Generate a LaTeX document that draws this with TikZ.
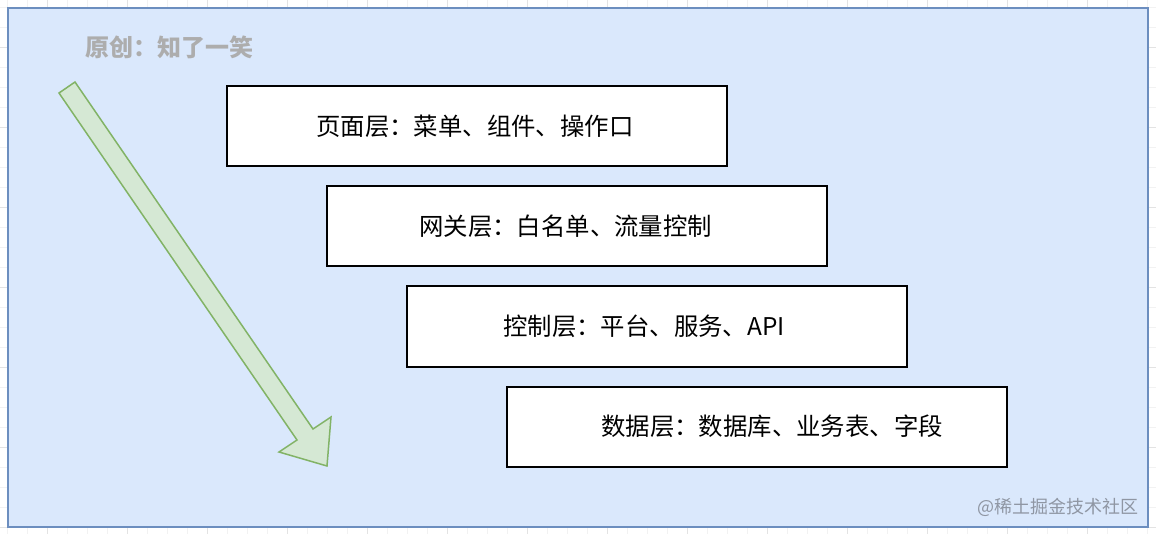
\documentclass[tikz,border=0pt]{standalone}
\usepackage{fontspec}
\setmainfont{Noto Sans CJK SC}
\definecolor{bgfill}{HTML}{DAE8FC}
\definecolor{bgline}{HTML}{6C8EBF}
\definecolor{arrfill}{HTML}{D5E8D4}
\definecolor{arrline}{HTML}{82B366}
\definecolor{gridminor}{HTML}{F2F2F2}
\definecolor{gridmajor}{HTML}{E3E3E3}
\definecolor{wmark}{HTML}{ADADAD}
\definecolor{jjmark}{HTML}{8F96A3}
\begin{document}
\begin{tikzpicture}[x=1pt,y=-1pt,
  layerbox/.style={draw=black,line width=2pt,fill=white,minimum width=500pt,minimum height=80pt,inner sep=0pt},
  layertext/.style={anchor=west,font=\fontsize{24.4pt}{28pt}\selectfont,text=black,inner sep=0pt},
  bigarrow/.style={draw=arrline,fill=arrfill,line width=1.5pt,line join=miter}]
\useasboundingbox (0,0) rectangle (1156,534);
% outside grid
\fill[white] (0,0) rectangle (1156,534);
\foreach \x in {7,27,...,1156} \draw[gridminor,line width=0.8pt] (\x,0) -- (\x,534);
\foreach \y in {7,27,...,534} \draw[gridminor,line width=0.8pt] (0,\y) -- (1156,\y);
\foreach \x in {47,127,...,1156} \draw[gridmajor,line width=0.8pt] (\x,0) -- (\x,534);
\foreach \y in {47,127,...,534} \draw[gridmajor,line width=0.8pt] (0,\y) -- (1156,\y);
% background panel
\draw[fill=bgfill,draw=bgline,line width=2pt] (8,8) rectangle (1148,527);
% watermark
\node[anchor=west,inner sep=0pt,text=wmark,font=\fontsize{24pt}{28pt}\selectfont\bfseries] (wm) at (85,47) {原创：知了一笑};
% arrow
\draw[bigarrow] (59,93) -- (75,82) -- (313,429) -- (331,417) -- (327,466) -- (279,452) -- (297,440) -- cycle;
% layer boxes
\node[layerbox] (b1) at (477,126.5) {};
\node[layerbox] (b2) at (577,226.5) {};
\node[layerbox] (b3) at (657,326.5) {};
\node[layerbox] (b4) at (757,426.5) {};
\node[layertext] (t1) at ([xshift=90pt]b1.west) {页面层：菜单、组件、操作口};
\node[layertext] (t2) at ([xshift=93pt]b2.west) {网关层：白名单、流量控制};
\node[layertext] (t3) at ([xshift=97pt]b3.west) {控制层：平台、服务、API};
\node[layertext] (t4) at ([xshift=95pt]b4.west) {数据层：数据库、业务表、字段};
% site mark
\node[anchor=east,inner sep=0pt,text=jjmark,font=\fontsize{18pt}{20pt}\selectfont] (jj) at (1139,507) {@稀土掘金技术社区};
\end{tikzpicture}
\end{document}
